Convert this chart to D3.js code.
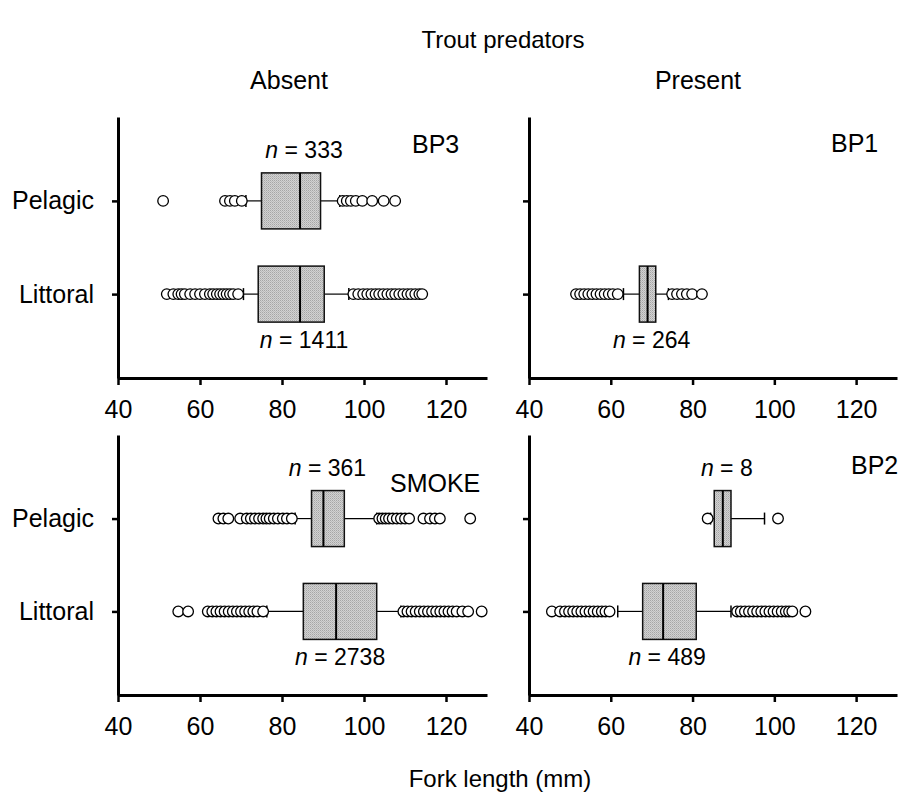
<!DOCTYPE html>
<html>
<head>
<meta charset="utf-8">
<script src="https://cdn.jsdelivr.net/npm/d3@7"></script>
<style>
  body { margin: 0; background: #fff; }
  svg { font-family: Arial, "Liberation Sans", Helvetica, sans-serif; }
</style>
</head>
<body>
<svg id="chart" width="899" height="792"></svg>
<script>
// categories
const groups = ["Pelagic", "Littoral"];
const sites = ["BP3", "BP1", "SMOKE", "BP2"];
const predators = ["Absent", "Present"];
const xTicks = [40, 60, 80, 100, 120];

// [lower whisker, q1, median, q3, upper whisker] per site
const pelagicStats = [
  [71.2, 75.0, 84.4, 89.4, 94.1],
  null,
  [83.2, 87.2, 90.1, 95.2, 103.1],
  [84.4, 85.3, 87.4, 89.4, 97.6]
];
const littoralStats = [
  [70.6, 74.2, 84.4, 90.3, 96.3],
  [63.1, 67.0, 69.0, 71.0, 74.1],
  [76.3, 85.2, 93.2, 103.1, 109.0],
  [61.7, 67.8, 72.8, 80.9, 89.4]
];
const pelagicN = [333, null, 361, 8];
const littoralN = [1411, 264, 2738, 489];

const pelagicOutliers = [
  [51.0, 66.1, 67.3, 68.5, 70.2, 94.8, 95.8, 96.8, 98.0, 99.6, 102.0, 104.8, 107.6],
  [],
  [64.5, 65.7, 66.9, 69.8, 71.4, 72.4, 73.4, 74.4, 75.4, 76.2, 77.0, 78.0, 79.0, 80.2, 81.2, 82.4,
   103.7, 104.5, 105.3, 106.1, 107.0, 108.0, 109.0, 110.0, 111.0, 114.5, 116.1, 117.3, 118.5, 125.9],
  [83.7, 100.9]
];
const littoralOutliers = [
  [51.9, 53.5, 54.7, 55.5, 56.3, 57.6, 58.8, 60.0, 61.2, 62.4, 63.2, 64.1, 64.9, 65.7, 66.5, 67.3, 68.1, 69.3,
   97.4, 98.6, 99.8, 100.8, 101.8, 102.8, 103.7, 104.7, 105.7, 106.7, 107.6, 108.6, 109.6, 110.6, 111.5, 112.5, 113.5, 114.2],
  [51.5, 52.5, 53.5, 54.5, 55.5, 56.5, 57.5, 58.5, 59.5, 60.5, 61.7, 75.0, 76.2, 77.4, 78.6, 79.9, 82.3],
  [54.7, 57.1, 61.9, 63.0, 64.0, 65.0, 66.0, 67.0, 68.0, 69.0, 70.0, 71.0, 72.0, 73.0, 74.0, 75.4,
   109.6, 110.6, 111.6, 112.6, 113.6, 114.6, 115.6, 116.6, 117.6, 118.6, 119.6, 120.6, 121.6, 122.6, 124.0, 125.4, 128.7],
  [45.6, 47.6, 48.8, 49.8, 50.8, 51.8, 52.8, 53.8, 54.8, 55.8, 56.8, 57.8, 58.7, 59.7,
   90.9, 91.8, 92.8, 93.8, 94.8, 95.8, 96.8, 97.8, 98.8, 99.8, 100.8, 101.8, 102.8, 103.6, 104.4, 107.6]
];

// panel layout (pixels)
const panels = [
  {x0: 118, x1: 487, y0: 117, y1: 378, label: [412, 153], yLabels: true},
  {x0: 529, x1: 897, y0: 117, y1: 378, label: [831, 152], yLabels: false},
  {x0: 118, x1: 487, y0: 435, y1: 695, label: [390, 492], yLabels: true},
  {x0: 529, x1: 897, y0: 435, y1: 695, label: [851, 474], yLabels: false}
];
const boxH = 56;
const fontSize = 25;

const svg = d3.select("#chart");

// stipple fill for the boxes
const pat = svg.append("defs").append("pattern")
  .attr("id", "stipple")
  .attr("width", 2).attr("height", 2)
  .attr("patternUnits", "userSpaceOnUse");
pat.append("rect").attr("width", 2).attr("height", 2).attr("fill", "#d2d2d2");
pat.append("rect").attr("width", 1).attr("height", 1).attr("fill", "#a6a6a6");
pat.append("rect").attr("x", 1).attr("y", 1).attr("width", 1).attr("height", 1).attr("fill", "#bababa");

svg.append("text")
  .attr("x", 503).attr("y", 48)
  .attr("text-anchor", "middle")
  .style("font-size", "24px")
  .text("Trout predators");

predators.forEach((p, i) => {
  svg.append("text")
    .attr("x", i === 0 ? 289 : 698).attr("y", 89)
    .attr("text-anchor", "middle")
    .style("font-size", fontSize + "px")
    .text(p);
});

svg.append("text")
  .attr("x", 500).attr("y", 787)
  .attr("text-anchor", "middle")
  .style("font-size", "24px")
  .text("Fork length (mm)");

sites.forEach((site, i) => {
  const p = panels[i];
  const g = svg.append("g");

  const x = d3.scaleLinear().domain([40, 130]).range([p.x0, p.x1]);
  const y = d3.scalePoint().domain(groups).range([p.y0, p.y1]).padding(0.9);

  const xAxis = g.append("g")
    .attr("transform", `translate(0,${p.y1})`)
    .call(d3.axisBottom(x).tickValues(xTicks).tickSize(7).tickSizeOuter(0).tickPadding(15));
  const yAxis = g.append("g")
    .attr("transform", `translate(${p.x0},0)`)
    .call(d3.axisLeft(y).tickSize(6).tickSizeOuter(0).tickPadding(18)
      .tickFormat(d => p.yLabels ? d : ""));

  [xAxis, yAxis].forEach(a => {
    a.select(".domain").attr("stroke", "#000").attr("stroke-width", 3);
    a.selectAll(".tick line").attr("stroke", "#000").attr("stroke-width", 2.5);
    a.selectAll(".tick text")
      .attr("fill", "#000")
      .style("font-family", "Arial, 'Liberation Sans', sans-serif")
      .style("font-size", fontSize + "px");
  });

  const rows = [
    {grp: "Pelagic", s: pelagicStats[i], out: pelagicOutliers[i], n: pelagicN[i]},
    {grp: "Littoral", s: littoralStats[i], out: littoralOutliers[i], n: littoralN[i]}
  ];

  rows.forEach(r => {
    if (!r.s) return;
    const cy = y(r.grp);
    const [lo, q1, med, q3, hi] = r.s;

    // whiskers
    g.append("line")
      .attr("x1", x(lo)).attr("x2", x(q1)).attr("y1", cy).attr("y2", cy)
      .attr("stroke", "#000").attr("stroke-width", 1.2);
    g.append("line")
      .attr("x1", x(q3)).attr("x2", x(hi)).attr("y1", cy).attr("y2", cy)
      .attr("stroke", "#000").attr("stroke-width", 1.2);
    g.selectAll(null).data([lo, hi]).join("line")
      .attr("x1", d => x(d)).attr("x2", d => x(d))
      .attr("y1", cy - 6).attr("y2", cy + 6)
      .attr("stroke", "#000").attr("stroke-width", 1.5);

    // outliers
    g.selectAll(null).data(r.out).join("circle")
      .attr("cx", d => x(d)).attr("cy", cy).attr("r", 5.3)
      .attr("fill", "#fff").attr("stroke", "#000").attr("stroke-width", 1.3);

    // box
    g.append("rect")
      .attr("x", x(q1)).attr("y", cy - boxH / 2)
      .attr("width", x(q3) - x(q1)).attr("height", boxH)
      .attr("fill", "url(#stipple)")
      .attr("stroke", "#111").attr("stroke-width", 1.5);
    g.append("line")
      .attr("x1", x(med)).attr("x2", x(med))
      .attr("y1", cy - boxH / 2).attr("y2", cy + boxH / 2)
      .attr("stroke", "#000").attr("stroke-width", 2);

    // sample size
    const t = g.append("text")
      .attr("x", x(med) + 4)
      .attr("y", r.grp === "Pelagic" ? cy - boxH / 2 - 15 : cy + boxH / 2 + 26)
      .attr("text-anchor", "middle")
      .style("font-size", "23px");
    t.append("tspan").style("font-style", "italic").text("n");
    t.append("tspan").text(" = " + r.n);
  });

  g.append("text")
    .attr("x", p.label[0]).attr("y", p.label[1])
    .style("font-size", fontSize + "px")
    .text(site);
});
</script>
</body>
</html>
